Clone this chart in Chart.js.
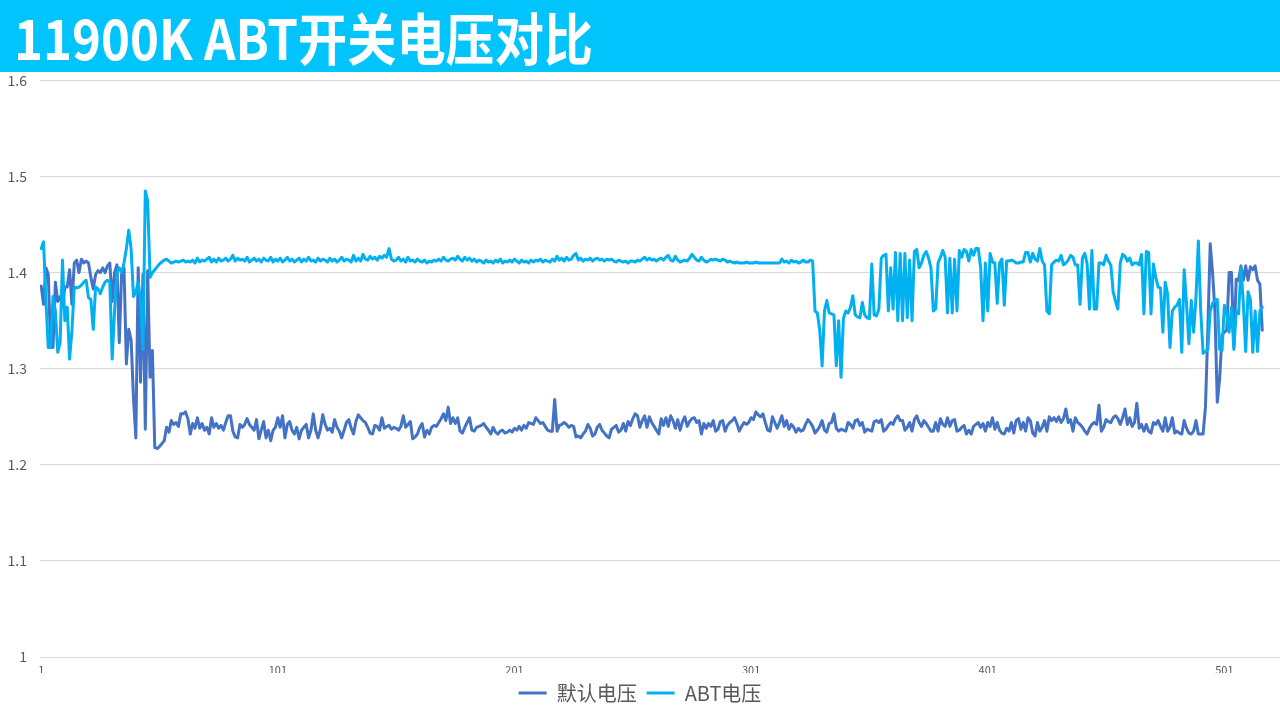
<!DOCTYPE html>
<html>
<head>
<meta charset="utf-8">
<script src="https://cdn.jsdelivr.net/npm/chart.js@4.4.1/dist/chart.umd.min.js"></script>
<style>
  html, body { margin: 0; padding: 0; background: #fff; }
  #page { position: relative; width: 1280px; height: 720px; overflow: hidden; }
  #titleBar { position: absolute; left: 0; top: 0; width: 1280px; height: 72px; background: #00C4FB; z-index: 2; }
  #title { position: absolute; left: 14px; top: -5px; line-height: 64px; white-space: nowrap;
           font: bold 56px "Noto Sans CJK SC", sans-serif; color: #fff; transform-origin: left center; }
  #chartBox { position: absolute; left: 0; top: 59px; width: 1280px; height: 661px; }
</style>
</head>
<body>
<div id="page">
  <div id="titleBar"><div id="title">11900K ABT开关电压对比</div></div>
  <div id="chartBox"><canvas id="voltChart" width="1280" height="661"></canvas></div>
</div>
<script>
// 系列名称
const seriesNames = ['默认电压', 'ABT电压'];

// 默认电压 (点 1..517)
const defaultV = [
  1.386, 1.367, 1.405, 1.398, 1.322, 1.322, 1.390, 1.370, 1.375, 1.365,
  1.385, 1.385, 1.403, 1.367, 1.410, 1.413, 1.400, 1.414, 1.410, 1.412,
  1.410, 1.395, 1.383, 1.398, 1.402, 1.400, 1.405, 1.400, 1.407, 1.410,
  1.370, 1.400, 1.408, 1.327, 1.400, 1.405, 1.305, 1.341, 1.330, 1.270,
  1.228, 1.405, 1.286, 1.398, 1.237, 1.402, 1.291, 1.319, 1.218, 1.217,
  1.219, 1.222, 1.225, 1.239, 1.234, 1.246, 1.242, 1.244, 1.240, 1.253,
  1.253, 1.255, 1.248, 1.232, 1.243, 1.238, 1.249, 1.238, 1.243, 1.236,
  1.239, 1.232, 1.249, 1.239, 1.243, 1.238, 1.241, 1.236, 1.244, 1.251,
  1.251, 1.235, 1.229, 1.228, 1.242, 1.239, 1.242, 1.248, 1.242, 1.239,
  1.236, 1.247, 1.227, 1.236, 1.245, 1.228, 1.236, 1.225, 1.236, 1.239,
  1.249, 1.239, 1.251, 1.228, 1.242, 1.245, 1.236, 1.232, 1.239, 1.227,
  1.236, 1.239, 1.242, 1.228, 1.236, 1.253, 1.236, 1.228, 1.237, 1.252,
  1.242, 1.236, 1.238, 1.234, 1.247, 1.239, 1.235, 1.228, 1.236, 1.244,
  1.247, 1.238, 1.232, 1.245, 1.252, 1.249, 1.246, 1.244, 1.239, 1.233,
  1.232, 1.241, 1.240, 1.236, 1.249, 1.238, 1.240, 1.241, 1.237, 1.239,
  1.238, 1.236, 1.240, 1.251, 1.239, 1.242, 1.245, 1.227, 1.229, 1.232,
  1.239, 1.243, 1.229, 1.236, 1.232, 1.239, 1.241, 1.240, 1.244, 1.248,
  1.253, 1.246, 1.260, 1.243, 1.249, 1.243, 1.249, 1.235, 1.233, 1.239,
  1.244, 1.249, 1.236, 1.235, 1.239, 1.240, 1.241, 1.243, 1.239, 1.236,
  1.232, 1.239, 1.234, 1.232, 1.235, 1.236, 1.233, 1.234, 1.236, 1.234,
  1.238, 1.236, 1.240, 1.236, 1.241, 1.238, 1.244, 1.243, 1.242, 1.249,
  1.246, 1.243, 1.244, 1.240, 1.236, 1.235, 1.235, 1.268, 1.235, 1.241,
  1.242, 1.244, 1.242, 1.239, 1.241, 1.240, 1.229, 1.230, 1.228, 1.232,
  1.235, 1.242, 1.238, 1.230, 1.232, 1.239, 1.242, 1.236, 1.233, 1.230,
  1.228, 1.237, 1.239, 1.241, 1.234, 1.236, 1.243, 1.235, 1.245, 1.241,
  1.248, 1.253, 1.251, 1.239, 1.246, 1.251, 1.239, 1.250, 1.244, 1.240,
  1.236, 1.232, 1.248, 1.241, 1.249, 1.240, 1.251, 1.246, 1.238, 1.247,
  1.236, 1.245, 1.250, 1.240, 1.245, 1.248, 1.249, 1.244, 1.246, 1.232,
  1.243, 1.238, 1.243, 1.240, 1.246, 1.235, 1.237, 1.245, 1.246, 1.235,
  1.241, 1.244, 1.246, 1.249, 1.243, 1.235, 1.240, 1.244, 1.242, 1.244,
  1.249, 1.247, 1.255, 1.252, 1.250, 1.253, 1.244, 1.236, 1.235, 1.250,
  1.244, 1.238, 1.244, 1.251, 1.240, 1.246, 1.237, 1.242, 1.239, 1.234,
  1.238, 1.235, 1.236, 1.242, 1.247, 1.244, 1.240, 1.233, 1.236, 1.240,
  1.246, 1.236, 1.234, 1.243, 1.244, 1.253, 1.238, 1.235, 1.237, 1.236,
  1.235, 1.244, 1.242, 1.238, 1.246, 1.247, 1.241, 1.244, 1.234, 1.237,
  1.236, 1.235, 1.245, 1.246, 1.244, 1.247, 1.235, 1.237, 1.241, 1.244,
  1.242, 1.248, 1.251, 1.246, 1.246, 1.236, 1.239, 1.244, 1.235, 1.247,
  1.251, 1.244, 1.240, 1.246, 1.243, 1.239, 1.235, 1.235, 1.244, 1.235,
  1.248, 1.242, 1.240, 1.249, 1.240, 1.246, 1.247, 1.235, 1.236, 1.239,
  1.241, 1.232, 1.236, 1.232, 1.240, 1.242, 1.244, 1.239, 1.243, 1.235,
  1.244, 1.240, 1.249, 1.237, 1.244, 1.236, 1.233, 1.232, 1.238, 1.235,
  1.244, 1.233, 1.246, 1.248, 1.237, 1.244, 1.235, 1.249, 1.246, 1.233,
  1.230, 1.244, 1.235, 1.239, 1.246, 1.235, 1.250, 1.246, 1.249, 1.245,
  1.250, 1.244, 1.248, 1.258, 1.244, 1.247, 1.235, 1.249, 1.244, 1.242,
  1.239, 1.235, 1.232, 1.238, 1.242, 1.244, 1.242, 1.262, 1.235, 1.239,
  1.247, 1.245, 1.244, 1.249, 1.251, 1.248, 1.242, 1.249, 1.258, 1.242,
  1.249, 1.240, 1.244, 1.264, 1.238, 1.242, 1.235, 1.242, 1.235, 1.233,
  1.244, 1.242, 1.246, 1.240, 1.235, 1.249, 1.235, 1.239, 1.249, 1.233,
  1.235, 1.233, 1.232, 1.246, 1.238, 1.233, 1.232, 1.235, 1.246, 1.232,
  1.232, 1.232, 1.260, 1.340, 1.430, 1.400, 1.360, 1.265, 1.290, 1.335,
  1.338, 1.340, 1.400, 1.400, 1.322, 1.393, 1.392, 1.407, 1.392, 1.407,
  1.392, 1.406, 1.403, 1.407, 1.392, 1.388, 1.340
];

// ABT电压 (点 1..517)
const abtV = [
  1.425, 1.432, 1.370, 1.322, 1.322, 1.375, 1.360, 1.317, 1.327, 1.413,
  1.350, 1.364, 1.310, 1.340, 1.385, 1.384, 1.385, 1.387, 1.390, 1.392,
  1.374, 1.372, 1.341, 1.385, 1.383, 1.378, 1.385, 1.390, 1.392, 1.390,
  1.310, 1.360, 1.400, 1.405, 1.400, 1.410, 1.425, 1.444, 1.425, 1.375,
  1.380, 1.390, 1.370, 1.320, 1.485, 1.475, 1.395, 1.400, 1.403, 1.406,
  1.409, 1.411, 1.413, 1.414, 1.412, 1.410, 1.411, 1.412, 1.411, 1.412,
  1.413, 1.411, 1.412, 1.411, 1.413, 1.410, 1.415, 1.411, 1.413, 1.412,
  1.414, 1.416, 1.411, 1.414, 1.411, 1.415, 1.412, 1.413, 1.415, 1.412,
  1.414, 1.418, 1.412, 1.415, 1.413, 1.414, 1.412, 1.416, 1.411, 1.413,
  1.415, 1.412, 1.414, 1.411, 1.415, 1.413, 1.412, 1.416, 1.411, 1.414,
  1.412, 1.415, 1.411, 1.413, 1.416, 1.412, 1.414, 1.411, 1.413, 1.415,
  1.411, 1.414, 1.412, 1.416, 1.412, 1.413, 1.411, 1.415, 1.412, 1.414,
  1.413, 1.411, 1.415, 1.412, 1.414, 1.411, 1.413, 1.416, 1.412, 1.414,
  1.413, 1.411, 1.418, 1.412, 1.415, 1.412, 1.419, 1.414, 1.413, 1.417,
  1.414, 1.416, 1.413, 1.417, 1.415, 1.418, 1.416, 1.425, 1.414, 1.412,
  1.413, 1.416, 1.412, 1.414, 1.411, 1.416, 1.412, 1.413, 1.411, 1.414,
  1.412, 1.411, 1.413, 1.410, 1.412, 1.411, 1.413, 1.412, 1.414, 1.412,
  1.416, 1.413, 1.412, 1.414, 1.415, 1.413, 1.417, 1.414, 1.412, 1.416,
  1.413, 1.415, 1.412, 1.414, 1.411, 1.413, 1.412, 1.410, 1.413, 1.411,
  1.412, 1.410, 1.413, 1.411, 1.414, 1.410, 1.412, 1.411, 1.413, 1.411,
  1.414, 1.412, 1.410, 1.413, 1.411, 1.412, 1.410, 1.413, 1.411, 1.413,
  1.412, 1.414, 1.411, 1.413, 1.412, 1.411, 1.414, 1.412, 1.417, 1.413,
  1.415, 1.412, 1.416, 1.413, 1.414, 1.418, 1.420, 1.413, 1.415, 1.412,
  1.414, 1.413, 1.415, 1.412, 1.414, 1.415, 1.413, 1.414, 1.412, 1.414,
  1.413, 1.414, 1.412, 1.411, 1.413, 1.412, 1.411, 1.412, 1.410, 1.412,
  1.412, 1.411, 1.413, 1.412, 1.414, 1.416, 1.413, 1.415, 1.413, 1.414,
  1.412, 1.414, 1.415, 1.413, 1.416, 1.418, 1.413, 1.412, 1.417, 1.413,
  1.411, 1.412, 1.413, 1.412, 1.415, 1.419, 1.416, 1.413, 1.412, 1.416,
  1.413, 1.411, 1.412, 1.414, 1.413, 1.414, 1.413, 1.412, 1.414, 1.413,
  1.411, 1.412, 1.411, 1.410, 1.411, 1.410, 1.410, 1.410, 1.411, 1.410,
  1.410, 1.410, 1.411, 1.410, 1.410, 1.410, 1.410, 1.410, 1.410, 1.410,
  1.410, 1.410, 1.410, 1.414, 1.411, 1.412, 1.410, 1.413, 1.411, 1.412,
  1.410, 1.411, 1.413, 1.411, 1.411, 1.413, 1.412, 1.360, 1.358, 1.340,
  1.303, 1.360, 1.371, 1.358, 1.357, 1.356, 1.303, 1.350, 1.291, 1.352,
  1.360, 1.358, 1.364, 1.376, 1.356, 1.354, 1.353, 1.369, 1.356, 1.353,
  1.352, 1.409, 1.356, 1.355, 1.362, 1.415, 1.418, 1.419, 1.360, 1.405,
  1.362, 1.421, 1.350, 1.420, 1.350, 1.420, 1.353, 1.413, 1.350, 1.422,
  1.424, 1.405, 1.410, 1.418, 1.422, 1.415, 1.405, 1.360, 1.362, 1.410,
  1.416, 1.423, 1.416, 1.358, 1.415, 1.358, 1.414, 1.360, 1.423, 1.416,
  1.424, 1.422, 1.412, 1.424, 1.418, 1.425, 1.425, 1.405, 1.350, 1.410,
  1.360, 1.420, 1.411, 1.410, 1.368, 1.410, 1.414, 1.366, 1.412, 1.412,
  1.413, 1.412, 1.410, 1.410, 1.411, 1.411, 1.421, 1.421, 1.411, 1.420,
  1.414, 1.412, 1.425, 1.412, 1.408, 1.360, 1.357, 1.408, 1.411, 1.413,
  1.412, 1.418, 1.408, 1.410, 1.413, 1.418, 1.416, 1.408, 1.408, 1.367,
  1.415, 1.420, 1.409, 1.362, 1.423, 1.362, 1.362, 1.410, 1.410, 1.408,
  1.418, 1.412, 1.408, 1.380, 1.370, 1.362, 1.410, 1.419, 1.417, 1.412,
  1.415, 1.408, 1.410, 1.410, 1.408, 1.419, 1.357, 1.422, 1.421, 1.357,
  1.409, 1.395, 1.385, 1.384, 1.338, 1.390, 1.378, 1.322, 1.360, 1.364,
  1.366, 1.372, 1.317, 1.403, 1.368, 1.326, 1.371, 1.338, 1.374, 1.433,
  1.360, 1.316, 1.318, 1.320, 1.360, 1.368, 1.371, 1.372, 1.320, 1.319,
  1.366, 1.358, 1.338, 1.364, 1.320, 1.360, 1.357, 1.405, 1.369, 1.318,
  1.380, 1.372, 1.317, 1.360, 1.318, 1.360, 1.364
];

// 横轴: 采样序号, 以及显示的刻度
const sampleNo = defaultV.map((_, i) => i + 1);
const xTickLabels = [1, 101, 201, 301, 401, 501];
const yTickLabels = [1, 1.1, 1.2, 1.3, 1.4, 1.5, 1.6];

const FONT = '"Noto Sans CJK SC", "Noto Sans", sans-serif';
const GREY = '#595959';

// 标题宽度对齐
const titleEl = document.getElementById('title');
const tw = titleEl.getBoundingClientRect().width;
titleEl.style.transform = `scaleX(${579 / tw})`;

const toPoints = vals => vals.map((v, i) => ({ x: sampleNo[i], y: v }));

Chart.defaults.font.family = FONT;

new Chart(document.getElementById('voltChart'), {
  type: 'line',
  data: {
    datasets: [
      { label: seriesNames[0], data: toPoints(defaultV), borderColor: '#4472C4', backgroundColor: '#4472C4', order: 1 },
      { label: seriesNames[1], data: toPoints(abtV),     borderColor: '#00B0F0', backgroundColor: '#00B0F0', order: 0 }
    ]
  },
  options: {
    responsive: false, animation: false, devicePixelRatio: 1,
    elements: {
      line: { borderWidth: 3, tension: 0, borderJoinStyle: 'round', borderCapStyle: 'round' },
      point: { radius: 0 }
    },
    layout: { padding: { top: 0, left: 0, right: 0, bottom: 7 } },
    scales: {
      x: {
        type: 'linear', min: 0.5, max: 524.5,
        grid: { display: false, drawTicks: false }, border: { display: false },
        afterBuildTicks: a => { a.ticks = xTickLabels.map(v => ({ value: v })); },
        ticks: { autoSkip: false, maxRotation: 0, color: GREY, font: { size: 11 }, padding: 6,
                 callback: v => String(v) },
        afterFit: a => { a.height = 16; }
      },
      y: {
        min: 1, max: 1.6,
        grid: { color: '#D9D9D9', drawTicks: false }, border: { display: false },
        afterBuildTicks: a => { a.ticks = yTickLabels.map(v => ({ value: v })); },
        ticks: { color: GREY, font: { size: 14 }, padding: 13, callback: v => String(+v.toFixed(1)) },
        afterFit: a => { a.width = 40; }
      }
    },
    plugins: {
      legend: {
        position: 'bottom',
        labels: {
          boxWidth: 28, boxHeight: 3, padding: 10, color: GREY, font: { size: 20 },
          generateLabels: chart => Chart.defaults.plugins.legend.labels.generateLabels(chart)
            .map(item => ({ ...item, lineWidth: 0 })),
          sort: (a, b) => a.datasetIndex - b.datasetIndex
        }
      },
      tooltip: { enabled: false }
    }
  }
});
</script>
</body>
</html>
